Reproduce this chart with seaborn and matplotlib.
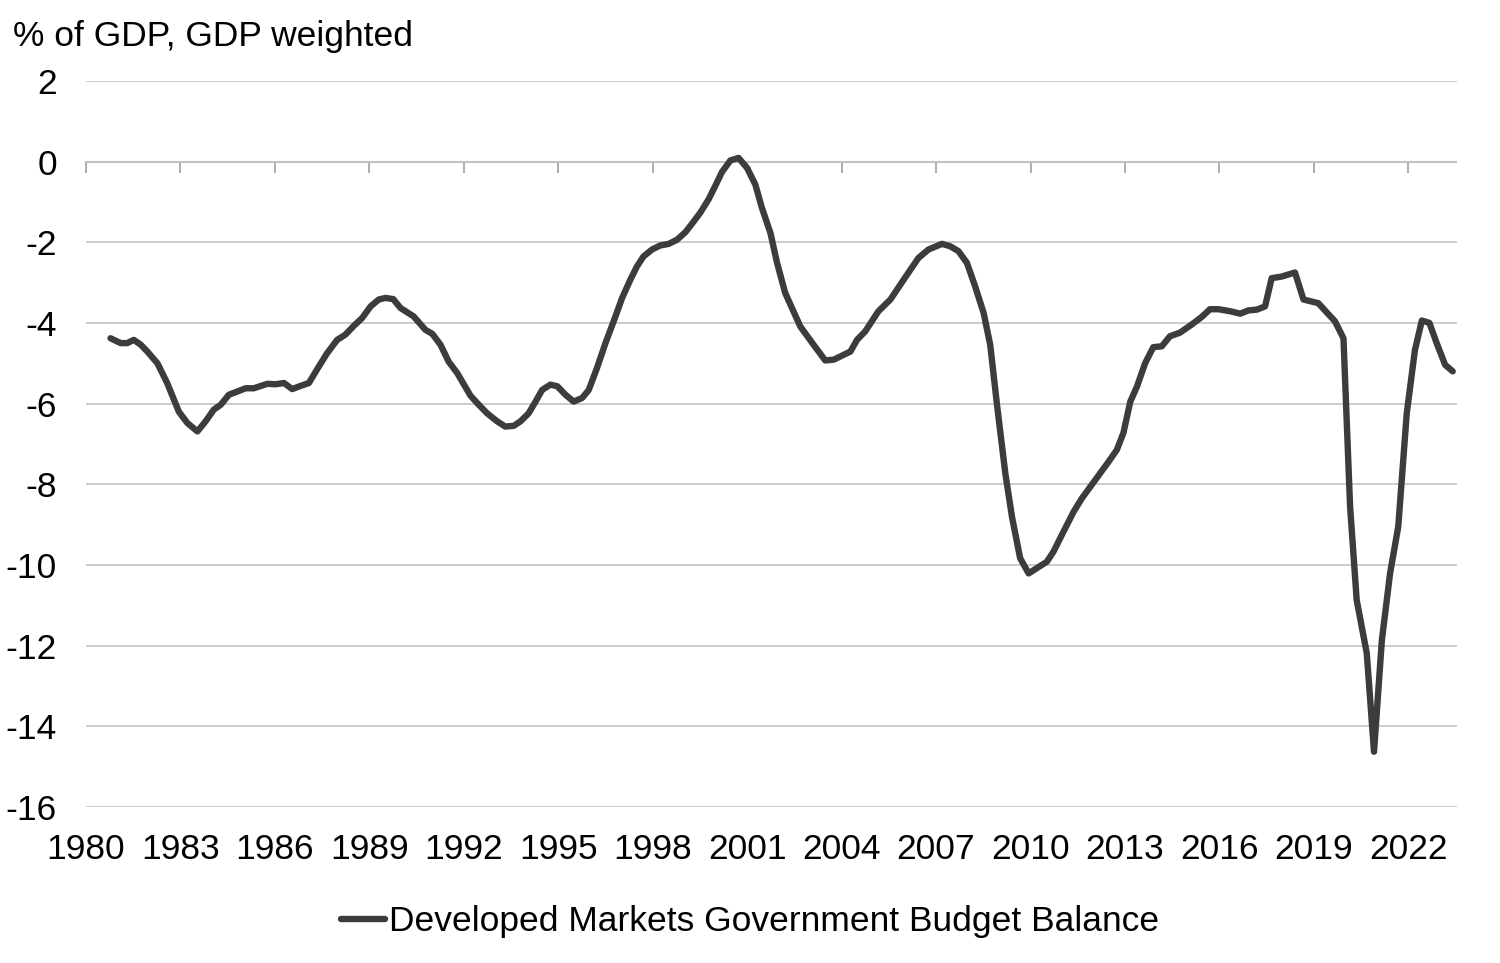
import pandas as pd
import seaborn as sns
import matplotlib.pyplot as plt

# quarterly-ish readings, % of GDP
years = [1980.78, 1981.10, 1981.31, 1981.52, 1981.74, 1981.95, 1982.27, 1982.58, 1982.95, 1983.22,
         1983.54, 1983.80, 1984.06, 1984.28, 1984.54, 1984.81, 1985.07, 1985.33, 1985.76, 1986.02,
         1986.29, 1986.55, 1986.82, 1987.08, 1987.35, 1987.66, 1987.98, 1988.24, 1988.51, 1988.77,
         1989.04, 1989.30, 1989.51, 1989.76, 1989.99, 1990.41, 1990.78, 1991.00, 1991.26, 1991.52,
         1991.79, 1992.21, 1992.43, 1992.74, 1993.06, 1993.32, 1993.59, 1993.80, 1994.06, 1994.28,
         1994.49, 1994.75, 1994.97, 1995.23, 1995.49, 1995.76, 1995.97, 1996.23, 1996.50, 1996.76,
         1997.03, 1997.29, 1997.50, 1997.71, 1997.98, 1998.24, 1998.51, 1998.77, 1999.04, 1999.25,
         1999.51, 1999.78, 1999.99, 2000.20, 2000.47, 2000.73, 2001.00, 2001.26, 2001.47, 2001.74,
         2001.95, 2002.21, 2002.69, 2003.11, 2003.48, 2003.75, 2004.28, 2004.49, 2004.75, 2005.17,
         2005.55, 2005.97, 2006.44, 2006.76, 2007.19, 2007.45, 2007.71, 2007.98, 2008.24, 2008.51,
         2008.72, 2008.93, 2009.20, 2009.41, 2009.67, 2009.94, 2010.20, 2010.52, 2010.73, 2011.05,
         2011.37, 2011.63, 2011.90, 2012.21, 2012.48, 2012.74, 2012.95, 2013.17, 2013.38, 2013.64,
         2013.90, 2014.17, 2014.43, 2014.75, 2015.12, 2015.44, 2015.70, 2015.97, 2016.34, 2016.66,
         2016.92, 2017.19, 2017.45, 2017.66, 2017.98, 2018.40, 2018.67, 2019.14, 2019.41, 2019.67,
         2019.94, 2020.15, 2020.36, 2020.68, 2020.91, 2021.16, 2021.42, 2021.68, 2021.95, 2022.21,
         2022.43, 2022.67, 2022.90, 2023.17, 2023.41]
balance = [-4.38, -4.50, -4.50, -4.42, -4.54, -4.71, -5.00, -5.49, -6.20, -6.48,
           -6.69, -6.44, -6.15, -6.03, -5.78, -5.70, -5.62, -5.62, -5.51, -5.52,
           -5.49, -5.64, -5.56, -5.49, -5.14, -4.75, -4.42, -4.29, -4.07, -3.88,
           -3.59, -3.42, -3.38, -3.41, -3.63, -3.84, -4.17, -4.27, -4.54, -4.96,
           -5.24, -5.80, -5.99, -6.24, -6.44, -6.57, -6.55, -6.44, -6.24, -5.95,
           -5.66, -5.53, -5.57, -5.78, -5.95, -5.86, -5.66, -5.12, -4.50, -3.96,
           -3.38, -2.93, -2.60, -2.35, -2.18, -2.08, -2.04, -1.94, -1.75, -1.54,
           -1.27, -0.93, -0.60, -0.26, 0.03, 0.09, -0.16, -0.57, -1.15, -1.77,
           -2.51, -3.26, -4.09, -4.54, -4.93, -4.91, -4.71, -4.42, -4.21, -3.71,
           -3.42, -2.93, -2.39, -2.18, -2.04, -2.10, -2.22, -2.51, -3.09, -3.75,
           -4.54, -5.99, -7.73, -8.80, -9.83, -10.21, -10.08, -9.92, -9.67, -9.17,
           -8.68, -8.35, -8.06, -7.73, -7.44, -7.15, -6.73, -5.95, -5.58, -5.00,
           -4.60, -4.58, -4.33, -4.24, -4.04, -3.85, -3.66, -3.66, -3.71, -3.77,
           -3.69, -3.67, -3.59, -2.89, -2.85, -2.75, -3.42, -3.51, -3.74, -3.96,
           -4.38, -8.55, -10.87, -12.19, -14.63, -11.86, -10.21, -9.05, -6.24, -4.67,
           -3.94, -4.00, -4.50, -5.04, -5.20]

x_ticks = list(range(1980, 2023, 3))
y_ticks = list(range(-16, 3, 2))
series_name = "Developed Markets Government Budget Balance"

df = pd.DataFrame({"year": years, "balance": balance})

sns.set_style("white")
plt.rcParams["font.family"] = ["Liberation Sans", "DejaVu Sans"]
plt.rcParams["axes.unicode_minus"] = False
plt.rcParams["text.color"] = "black"

fig = plt.figure(figsize=(15, 9.63), dpi=100)
ax = fig.add_axes([0.0573, 0.162, 0.9137, 0.754])

sns.lineplot(data=df, x="year", y="balance", ax=ax, color="#3c3d3a",
             linewidth=4.6, label=series_name, legend=False)

ax.set_xlim(1980, 2023.53)
ax.set_ylim(-16, 2)
ax.set_yticks(y_ticks)
ax.set_xticks(x_ticks)
ax.grid(axis="y", color="#c4c4c4", linewidth=1.2)
ax.grid(axis="x", visible=False)
ax.set_axisbelow(True)
for s in ax.spines.values():
    s.set_visible(False)
ax.tick_params(axis="both", length=0, labelsize=25.5, colors="black")
ax.tick_params(axis="y", pad=21)
ax.tick_params(axis="x", pad=19)
ax.set_xlabel("")
ax.set_ylabel("")

# x axis line with tick marks sits at zero
sec = ax.secondary_xaxis(16 / 18)
sec.set_xticks(x_ticks)
sec.tick_params(direction="in", length=8, width=1.2, color="#a0a0a0", labeltop=False, labelbottom=False)
sec.spines["top"].set_color("#bdbdbd")
sec.spines["top"].set_linewidth(1.5)

fig.text(0.009, 0.9626, "% of GDP, GDP weighted", fontsize=25.5, va="center", ha="left", color="black")

handles, labels = ax.get_legend_handles_labels()
leg = fig.legend(handles, labels, loc="center", bbox_to_anchor=(0.5, 0.0426), frameon=False,
                 fontsize=25.5, handlelength=1.25, handletextpad=0.12)
for t in leg.get_texts():
    t.set_color("black")

fig.savefig("out.png", dpi=100)
